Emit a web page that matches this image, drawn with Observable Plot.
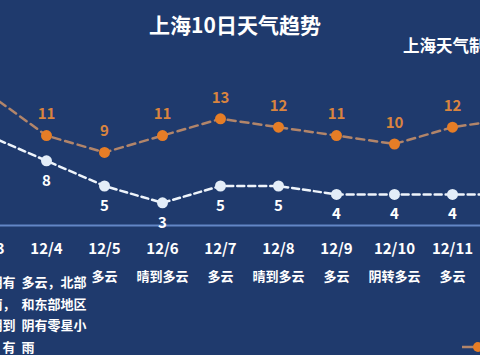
<!DOCTYPE html>
<html>
<head>
<meta charset="utf-8">
<script src="https://cdn.jsdelivr.net/npm/d3@7"></script>
<script src="https://cdn.jsdelivr.net/npm/@observablehq/plot@0.6"></script>
<style>
html,body{margin:0;padding:0;}
body{width:480px;height:355px;overflow:hidden;background:#1f3a6d;font-family:"Noto Sans CJK SC","Noto Sans",sans-serif;position:relative;}
#hdr{position:relative;height:60px;}
#title{position:absolute;left:0;width:470px;top:9px;text-align:center;color:#fff;font-weight:bold;font-size:21px;line-height:30px;}
#sub{position:absolute;left:403px;top:34px;color:#fff;font-weight:bold;font-size:16.5px;line-height:22px;white-space:nowrap;}
#chart svg{display:block;}
.leg{position:absolute;left:462px;white-space:nowrap;color:#fff;font-size:13px;font-weight:bold;line-height:14px;}
.leg svg{vertical-align:middle;}
</style>
</head>
<body>
<div id="hdr">
  <div id="title">上海10日天气趋势</div>
  <div id="sub">上海天气制图</div>
</div>
<div id="chart"></div>
<div class="leg" style="top:339px"><svg width="22" height="14"><line x1="0" y1="7" x2="12" y2="7" stroke="#b2856a" stroke-width="2.5"/><circle cx="16" cy="7" r="5" fill="#e67d26"/></svg> 最高气温</div>
<div class="leg" style="top:355px"><svg width="22" height="14"><line x1="0" y1="7" x2="12" y2="7" stroke="#eef4fb" stroke-width="2.5"/><circle cx="16" cy="7" r="5" fill="#e3edf8"/></svg> 最低气温</div>
<script>
const dates = ["12/3","12/4","12/5","12/6","12/7","12/8","12/9","12/10","12/11","12/12"];
const highs = [16, 11, 9, 11, 13, 12, 11, 10, 12, 13];
const lows  = [11, 8, 5, 3, 5, 5, 4, 4, 4, 4];
const weather = [
  "早晨阴有\n小阵雨，\n白天阴到\n多云，有\n小雨",
  "多云，北部\n和东部地区\n阴有零星小\n雨",
  "多云","晴到多云","多云","晴到多云","多云","阴转多云","多云","多云"
];

const data = dates.map((d, i) => ({date: d, high: highs[i], low: lows[i], weather: weather[i]}));
const multi = data.filter(d => d.weather.includes("\n"));
const single = data.filter(d => !d.weather.includes("\n"));

const pxPerDeg = 8.4, zeroY = 167.5;
const font = "'Noto Sans CJK SC', 'Noto Sans', sans-serif";

const chart = Plot.plot({
  width: 480,
  height: 295,
  marginTop: 0, marginBottom: 130, marginLeft: 0, marginRight: 0,
  style: {background: "transparent", color: "#fff", fontFamily: font, overflow: "hidden"},
  x: {type: "point", domain: dates, range: [-12, 510], padding: 0, axis: null},
  y: {domain: [0, 16], range: [zeroY, zeroY - 16 * pxPerDeg], axis: null},
  marks: [
    Plot.frame({anchor: "bottom", stroke: "#6386c6", strokeWidth: 2}),
    Plot.axisX({anchor: "bottom", tickSize: 0, tickPadding: 18, fontSize: 15, fontWeight: "bold", fill: "#fff", label: null}),
    Plot.lineY(data, {x: "date", y: "high", stroke: "#b2856a", strokeWidth: 2.5, strokeDasharray: "8,5"}),
    Plot.lineY(data, {x: "date", y: "low", stroke: "#eef4fb", strokeWidth: 2.5, strokeDasharray: "7,4"}),
    Plot.dot(data, {x: "date", y: "high", r: 5.5, fill: "#e67d26"}),
    Plot.dot(data, {x: "date", y: "low", r: 5.5, fill: "#e3edf8"}),
    Plot.text(data, {x: "date", y: "high", text: d => String(d.high), dy: -21, fill: "#d9843f", fontSize: 15, fontWeight: "bold"}),
    Plot.text(data, {x: "date", y: "low", text: d => String(d.low), dy: 20, fill: "#ffffff", fontSize: 15, fontWeight: "bold"}),
    Plot.text(multi, {x: "date", text: "weather", frameAnchor: "bottom", lineAnchor: "top", textAnchor: "start", dx: -25, dy: 46, fontSize: 13, lineHeight: 1.67, fill: "#fff", fontWeight: "bold"}),
    Plot.text(single, {x: "date", text: "weather", frameAnchor: "bottom", lineAnchor: "top", textAnchor: "middle", dy: 46, fontSize: 13, fill: "#fff", fontWeight: "bold"})
  ]
});
document.getElementById("chart").appendChild(chart);
</script>
</body>
</html>
